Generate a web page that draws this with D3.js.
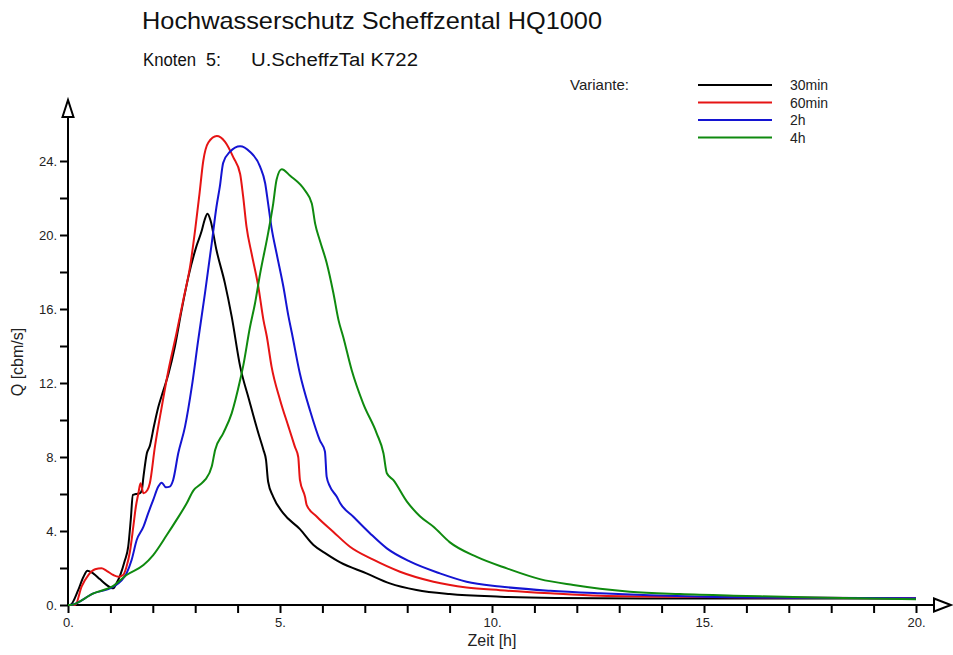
<!DOCTYPE html>
<html>
<head>
<meta charset="utf-8">
<script src="https://cdn.jsdelivr.net/npm/d3@7"></script>
<style>
  html, body { margin: 0; padding: 0; background: #fff; }
  svg { display: block; font-family: "Liberation Sans", Arial, sans-serif; }
</style>
</head>
<body>
<svg id="chart" width="953" height="655"></svg>
<script>
// Hydrographs at node 5 for four rainfall durations: [time h, Q cbm/s]
const variants = ["30min", "60min", "2h", "4h"];
const colors = ["#000000", "#e61414", "#1414d2", "#0f8a0f"];

const q30min = [[0,0],[0.05,0],[0.24,0.8],[0.36,1.5],[0.46,1.85],[0.6,1.7],[0.75,1.4],[0.9,1.1],[1.07,0.9],[1.15,1.2],[1.23,1.6],[1.34,2.4],[1.42,3.15],[1.48,4.6],[1.53,5.95],[1.6,6.0],[1.7,6.05],[1.74,6.2],[1.78,6.94],[1.86,8.2],[1.93,8.6],[2.03,9.7],[2.13,10.7],[2.25,11.6],[2.37,12.5],[2.52,13.96],[2.68,15.95],[2.84,17.75],[3.03,19.4],[3.15,20.2],[3.22,20.8],[3.29,21.15],[3.36,20.8],[3.5,19.2],[3.7,17.4],[3.86,15.6],[4.06,12.9],[4.27,11.1],[4.49,9.28],[4.61,8.38],[4.67,7.84],[4.72,6.66],[4.84,5.85],[5.08,4.95],[5.47,4.1],[5.79,3.24],[6.1,2.75],[6.42,2.3],[7.04,1.71],[7.59,1.17],[8.22,0.81],[9.0,0.59],[10.2,0.45],[11.5,0.38],[12.5,0.36],[15,0.35],[17.5,0.35],[20,0.35]];

const q60min = [[0,0],[0.17,0],[0.32,0.99],[0.48,1.62],[0.64,1.93],[0.79,1.98],[0.91,1.85],[1.07,1.62],[1.19,1.53],[1.3,1.62],[1.38,2.07],[1.46,2.88],[1.54,4.23],[1.6,5.31],[1.66,6.04],[1.71,6.58],[1.78,6.04],[1.87,6.2],[1.93,6.58],[2.05,8.56],[2.21,10.7],[2.37,12.7],[2.56,14.7],[2.72,16.5],[2.88,18.3],[3.0,20.3],[3.1,22.2],[3.19,24.0],[3.31,25.0],[3.51,25.35],[3.7,25.05],[3.9,24.2],[4.06,23.3],[4.13,22.1],[4.21,20.45],[4.33,19.0],[4.49,17.2],[4.61,15.4],[4.69,14.5],[4.8,12.9],[5.0,11.1],[5.2,9.64],[5.35,8.56],[5.43,8.0],[5.47,6.76],[5.59,5.85],[5.63,5.4],[5.87,4.77],[6.26,3.95],[6.65,3.15],[7.2,2.45],[7.83,1.8],[8.62,1.26],[9.4,0.95],[10.19,0.8],[11.37,0.63],[12.55,0.5],[15,0.43],[17.5,0.39],[20,0.37]];

const q2h = [[0,0],[0.05,0],[0.6,0.63],[1.07,0.99],[1.38,1.71],[1.5,2.43],[1.62,3.51],[1.78,4.23],[1.89,4.95],[2.01,5.68],[2.13,6.4],[2.21,6.61],[2.31,6.36],[2.4,6.4],[2.48,6.76],[2.6,8.2],[2.76,9.64],[2.92,11.8],[3.07,14.3],[3.23,16.85],[3.39,19.55],[3.5,21.5],[3.58,22.6],[3.66,23.9],[3.82,24.5],[4.06,24.8],[4.29,24.5],[4.53,23.7],[4.65,22.8],[4.72,21.7],[4.8,20.4],[4.92,19.0],[5.08,17.2],[5.2,15.6],[5.28,14.7],[5.47,12.5],[5.71,10.5],[5.94,8.9],[6.06,8.3],[6.1,6.94],[6.18,6.4],[6.34,5.85],[6.42,5.5],[6.73,4.77],[7.12,3.88],[7.52,3.06],[8.07,2.34],[8.77,1.71],[9.4,1.26],[10.19,1.0],[11.37,0.77],[12.55,0.63],[15,0.45],[17.5,0.39],[20,0.37]];

const q4h = [[0,0],[0.05,0],[0.6,0.63],[1.07,1.03],[1.38,1.62],[1.78,2.16],[2.01,2.7],[2.33,3.78],[2.56,4.6],[2.8,5.5],[2.96,6.2],[3.11,6.5],[3.23,6.76],[3.39,7.48],[3.47,8.38],[3.66,9.28],[3.86,10.36],[4.06,12.16],[4.13,12.9],[4.29,15.0],[4.41,16.3],[4.53,17.9],[4.72,20.1],[4.84,21.7],[4.92,23.0],[5.04,23.55],[5.24,23.2],[5.59,22.4],[5.75,21.7],[5.83,20.6],[5.94,19.7],[6.1,18.5],[6.26,16.85],[6.38,15.4],[6.49,14.5],[6.69,12.7],[6.96,10.9],[7.28,9.28],[7.44,8.2],[7.52,7.12],[7.67,6.76],[7.99,5.6],[8.3,4.8],[8.62,4.23],[9.0,3.4],[9.64,2.6],[10.35,1.98],[11.13,1.4],[11.92,1.08],[12.55,0.88],[13.25,0.72],[14.43,0.59],[16,0.49],[17.6,0.4],[20,0.31]];

const xTicks = d3.range(0, 21, 1);
const yTicks = d3.range(0, 25, 2);
const xLabelEvery = 5;
const yLabelEvery = 4;

const series = [q30min, q60min, q2h, q4h];

const svg = d3.select("#chart");

const x = d3.scaleLinear().domain([0, 20]).range([68, 916]);
const y = d3.scaleLinear().domain([0, 24]).range([605, 161]);

// Titles
svg.append("text").attr("x", 142).attr("y", 29)
  .attr("font-size", 24).attr("textLength", 460).attr("lengthAdjust", "spacingAndGlyphs")
  .attr("fill", "#111").text("Hochwasserschutz Scheffzental HQ1000");
const sub = [["Knoten", 143, 53], ["5:", 206, 15], ["U.ScheffzTal K722", 251, 167]];
sub.forEach(([t, px, w]) => {
  svg.append("text").attr("x", px).attr("y", 66).attr("font-size", 18)
    .attr("textLength", w).attr("lengthAdjust", "spacingAndGlyphs")
    .attr("fill", "#111").text(t);
});

// Axes
const axisG = svg.append("g");
const xAxis = d3.axisBottom(x).tickValues(xTicks).tickSize(8).tickPadding(5)
  .tickFormat(d => d % xLabelEvery === 0 ? d + "." : "");
const yAxis = d3.axisLeft(y).tickValues(yTicks).tickSize(8).tickPadding(3)
  .tickFormat(d => d % yLabelEvery === 0 ? d + "." : "");

const gx = axisG.append("g").attr("transform", `translate(0,${y(0)})`).call(xAxis);
const gy = axisG.append("g").attr("transform", `translate(${x(0)},0)`).call(yAxis);
[gx, gy].forEach(g => {
  g.select(".domain").remove();
  g.selectAll(".tick line").attr("stroke", "#000").attr("stroke-width", 2);
  g.selectAll(".tick text").attr("font-size", 13).attr("fill", "#222")
    .attr("font-family", "Liberation Sans, Arial, sans-serif");
});

// Axis lines with open arrow heads
axisG.append("line").attr("x1", x(0) - 1).attr("x2", 934).attr("y1", y(0)).attr("y2", y(0))
  .attr("stroke", "#000").attr("stroke-width", 2);
axisG.append("line").attr("x1", x(0)).attr("x2", x(0)).attr("y1", y(0) + 1).attr("y2", 117)
  .attr("stroke", "#000").attr("stroke-width", 2);
axisG.append("path")
  .attr("d", `M934,${y(0) - 6.5} L951,${y(0)} L934,${y(0) + 6.5} Z`)
  .attr("fill", "#fff").attr("stroke", "#000").attr("stroke-width", 2);
axisG.append("path")
  .attr("d", `M${x(0) - 5.5},117 L${x(0)},100 L${x(0) + 5.5},117 Z`)
  .attr("fill", "#fff").attr("stroke", "#000").attr("stroke-width", 2);

svg.append("text").attr("x", x(10)).attr("y", 646).attr("text-anchor", "middle")
  .attr("font-size", 16).attr("fill", "#222").text("Zeit [h]");
svg.append("text").attr("transform", "translate(23,362) rotate(-90)").attr("text-anchor", "middle")
  .attr("font-size", 16).attr("fill", "#222").text("Q [cbm/s]");

// Hydrograph curves
const line = d3.line().x(d => x(d[0])).y(d => y(d[1])).curve(d3.curveMonotoneX);
svg.append("g").selectAll("path").data(series).join("path")
  .attr("d", line)
  .attr("fill", "none")
  .attr("stroke", (d, i) => colors[i])
  .attr("stroke-width", 2)
  .attr("stroke-linejoin", "round");

// Legend
const legend = svg.append("g");
legend.append("text").attr("x", 570).attr("y", 90).attr("font-size", 15).attr("fill", "#222").text("Variante:");
const ly = d3.scalePoint().domain(variants).range([85, 137.5]);
variants.forEach((v, i) => {
  legend.append("line").attr("x1", 698).attr("x2", 772).attr("y1", ly(v)).attr("y2", ly(v))
    .attr("stroke", colors[i]).attr("stroke-width", 2);
  legend.append("text").attr("x", 790).attr("y", ly(v) + 5).attr("font-size", 14)
    .attr("fill", "#222").text(v);
});
</script>
</body>
</html>
